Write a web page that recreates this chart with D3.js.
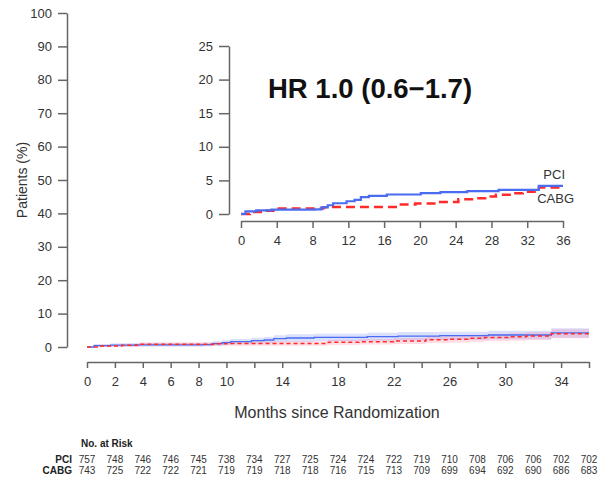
<!DOCTYPE html>
<html><head><meta charset="utf-8">
<script src="https://cdn.jsdelivr.net/npm/d3@7"></script>
<style>body{margin:0;background:#fff}svg{display:block;font-family:"Liberation Sans",Arial,sans-serif}</style>
</head><body><svg id="c" width="599" height="478"></svg>
<script>
// ---- data ----
const pciTime = [0, 0.5, 1.7, 3.4, 8.3, 9.0, 9.7, 10.3, 11.8, 12.7, 13.4, 14.3, 16.3, 20.1, 22.3, 25.3, 28.8, 33.3, 36];
const pciPct  = [0, 0.4, 0.55, 0.65, 0.7, 1.0, 1.3, 1.6, 1.9, 2.1, 2.5, 2.7, 2.9, 3.1, 3.25, 3.4, 3.6, 4.2, 4.2];
const pciLo   = [0, 0.0, 0.1, 0.15, 0.2, 0.4, 0.6, 0.8, 1.0, 1.2, 1.4, 1.6, 1.8, 1.9, 2.0, 2.1, 2.3, 2.8, 2.8];
const pciHi   = [0, 0.9, 1.1, 1.2, 1.3, 1.7, 2.0, 2.4, 2.8, 3.0, 3.5, 3.8, 4.0, 4.3, 4.5, 4.6, 4.9, 5.6, 5.6];
const cabgTime = [0, 1.0, 2.5, 3.8, 9.2, 10.0, 17.3, 19.5, 22.0, 24.3, 26.0, 27.3, 28.5, 30.3, 31.5, 33.3, 36];
const cabgPct  = [0, 0.3, 0.5, 0.8, 1.0, 1.05, 1.4, 1.55, 1.8, 2.2, 2.35, 2.6, 2.85, 3.1, 3.3, 3.95, 3.95];
const cabgLo   = [0, 0.0, 0.0, 0.2, 0.4, 0.4, 0.6, 0.75, 0.9, 1.2, 1.3, 1.5, 1.7, 1.9, 2.1, 2.6, 2.6];
const cabgHi   = [0, 0.7, 1.0, 1.4, 1.6, 1.7, 2.2, 2.4, 2.7, 3.2, 3.4, 3.7, 4.0, 4.3, 4.5, 5.3, 5.3];
const riskMonths = [0,2,4,6,8,10,12,14,16,18,20,22,24,26,28,30,32,34,36];
const riskPCI  = [757,748,746,746,745,738,734,727,725,724,724,722,719,710,708,706,706,702,702];
const riskCABG = [743,725,722,722,721,719,719,718,718,716,715,713,709,699,694,692,690,686,683];
const mainYTicks = [0,10,20,30,40,50,60,70,80,90,100];
const mainXTicks = [0,2,4,6,8,10,12,14,16,18,20,22,24,26,28,30,32,34,36];
const mainXLabels = [0,2,4,6,8,10,14,18,22,26,30,34];
const insetYTicks = [0,5,10,15,20,25];
const insetXTicks = [0,4,8,12,16,20,24,28,32,36];
const hrText = "HR 1.0 (0.6\u22121.7)";

// ---- drawing ----
const svg = d3.select("#c");
const axisCol = "#666", textCol = "#333";
const blue = "#4a6cf0", red = "#ff2a2a";

const pci = pciTime.map((t,i)=>({t, v:pciPct[i], lo:pciLo[i], hi:pciHi[i]}));
const cabg = cabgTime.map((t,i)=>({t, v:cabgPct[i], lo:cabgLo[i], hi:cabgHi[i]}));

// main
const x = d3.scaleLinear().domain([0,36]).range([87,589]);
const y = d3.scaleLinear().domain([0,100]).range([347,13]);

function styleAxis(g){
  g.select(".domain").attr("stroke",axisCol).attr("stroke-width",1.5);
  g.selectAll(".tick line").attr("stroke",axisCol).attr("stroke-width",1.5);
  g.selectAll(".tick text").attr("fill",textCol).style("font-size","13px");
}
const yAx = svg.append("g").attr("transform","translate(67,0)")
  .call(d3.axisLeft(y).tickValues(mainYTicks).tickSize(9).tickSizeOuter(0).tickPadding(6));
styleAxis(yAx);
const xAx = svg.append("g").attr("transform","translate(0,362)")
  .call(d3.axisBottom(x).tickValues(mainXTicks).tickSize(6).tickSizeOuter(0).tickPadding(9)
    .tickFormat(d=>mainXLabels.includes(d)?d:""));
styleAxis(xAx);

svg.append("text").attr("transform","translate(27,180) rotate(-90)")
  .attr("text-anchor","middle").attr("fill",textCol).style("font-size","14px").text("Patients (%)");
svg.append("text").attr("x",337).attr("y",418).attr("text-anchor","middle")
  .attr("fill",textCol).style("font-size","16px").text("Months since Randomization");

const area = d3.area().curve(d3.curveStepAfter).x(d=>x(d.t)).y0(d=>y(d.lo)).y1(d=>y(d.hi));
const line = d3.line().curve(d3.curveStepAfter).x(d=>x(d.t)).y(d=>y(d.v));
svg.append("path").datum(pci).attr("d",area).attr("fill","rgba(90,120,240,0.22)");
svg.append("path").datum(cabg).attr("d",area).attr("fill","rgba(255,90,130,0.2)");
svg.append("path").datum(pci).attr("d",line).attr("fill","none").attr("stroke",blue).attr("stroke-width",1.3);
svg.append("path").datum(cabg).attr("d",line).attr("fill","none").attr("stroke",red).attr("stroke-width",1.5).attr("stroke-dasharray","4,3");

// inset
const xi = d3.scaleLinear().domain([0,36]).range([241,563]);
const yi = d3.scaleLinear().domain([0,25]).range([214,46]);
const yiAx = svg.append("g").attr("transform","translate(229,0)")
  .call(d3.axisLeft(yi).tickValues(insetYTicks).tickSize(10).tickSizeOuter(0).tickPadding(6));
styleAxis(yiAx);
const xiAx = svg.append("g").attr("transform","translate(0,221)")
  .call(d3.axisBottom(xi).tickValues(insetXTicks).tickSize(7).tickSizeOuter(0).tickPadding(8));
styleAxis(xiAx);
const linei = d3.line().curve(d3.curveStepAfter).x(d=>xi(d.t)).y(d=>yi(d.v));
svg.append("path").datum(cabg).attr("d",linei).attr("fill","none").attr("stroke",red).attr("stroke-width",2.5).attr("stroke-dasharray","9,5");
svg.append("path").datum(pci).attr("d",linei).attr("fill","none").attr("stroke",blue).attr("stroke-width",2.2);
svg.append("text").attr("x",268).attr("y",98).attr("fill","#111").style("font-size","27.5px").style("font-weight","bold").text(hrText);
svg.append("text").attr("x",565).attr("y",179).attr("text-anchor","end").attr("fill",textCol).style("font-size","13px").text("PCI");
svg.append("text").attr("x",574).attr("y",203).attr("text-anchor","end").attr("fill",textCol).style("font-size","13px").text("CABG");

// risk table
svg.append("text").attr("x",81).attr("y",447).attr("fill","#222").style("font-size","10px").style("font-weight","bold").text("No. at Risk");
[["PCI",riskPCI,463],["CABG",riskCABG,474]].forEach(([name,vals,yy])=>{
  svg.append("text").attr("x",72).attr("y",yy).attr("text-anchor","end").attr("fill","#222")
    .style("font-size","10px").style("font-weight","bold").text(name);
  svg.append("g").selectAll("text").data(vals).join("text")
    .attr("x",(d,i)=>x(riskMonths[i])).attr("y",yy).attr("text-anchor","middle")
    .attr("fill",textCol).style("font-size","10px").text(d=>d);
});
</script></body></html>
